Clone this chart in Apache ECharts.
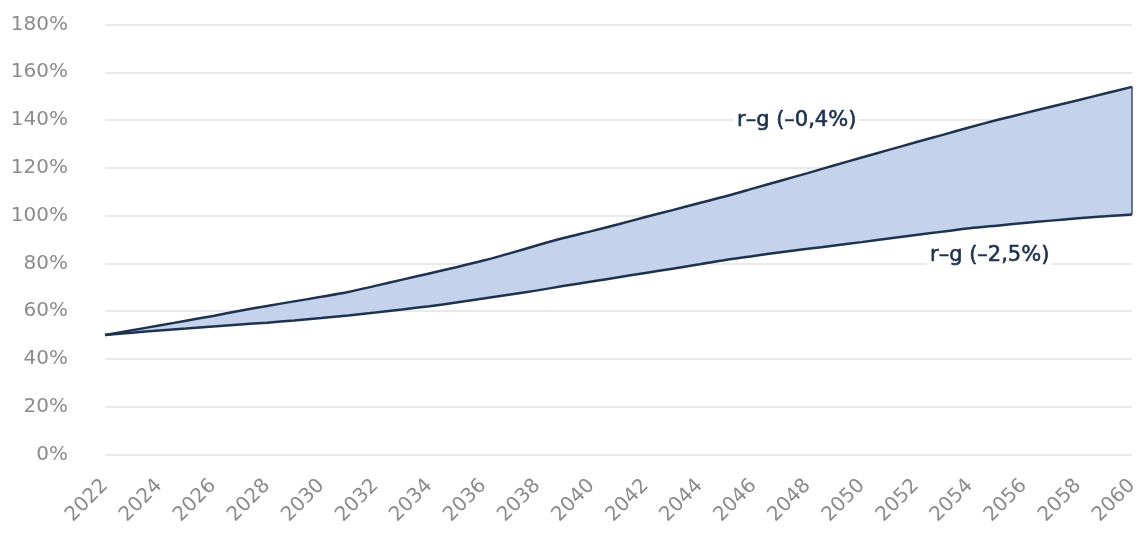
<!DOCTYPE html>
<html>
<head>
<meta charset="utf-8">
<script src="https://cdn.jsdelivr.net/npm/echarts@6/dist/echarts.min.js"></script>
<style>
  html, body { margin: 0; padding: 0; background: #ffffff; }
  #chart { width: 1142px; height: 534px; }
</style>
</head>
<body>
<div id="chart"></div>
<script>
// Debt ratio paths (% of GDP), 2022–2060
const years = [];
for (let y = 2022; y <= 2060; y++) years.push(String(y));

// r-g = -0.4%
const upperPath = [
  50.0, 52.0, 54.0, 56.0, 58.0, 60.2, 62.2, 64.1, 66.0, 68.0,
  70.6, 73.2, 75.8, 78.4, 81.2, 84.3, 87.6, 90.7, 93.5, 96.4,
  99.4, 102.3, 105.3, 108.2, 111.4, 114.6, 117.8, 121.1, 124.3, 127.5,
  130.7, 133.8, 137.0, 140.0, 142.8, 145.6, 148.3, 151.1, 153.9
];

// r-g = -2.5%
const lowerPath = [
  50.0, 51.0, 51.9, 52.7, 53.6, 54.4, 55.2, 56.1, 57.1, 58.2,
  59.4, 60.7, 62.1, 63.6, 65.3, 67.0, 68.7, 70.6, 72.4, 74.2,
  76.0, 77.8, 79.6, 81.5, 83.1, 84.7, 86.1, 87.5, 88.9, 90.4,
  91.9, 93.3, 94.7, 95.8, 96.9, 97.9, 98.9, 99.7, 100.5
];

const yTicks = { min: 0, max: 180, interval: 20 };
const upperLabel = 'r–g (–0,4%)';
const lowerLabel = 'r–g (–2,5%)';

// band between the two paths, stacked on the lower one
const bandWidth = upperPath.map((v, i) => +(v - lowerPath[i]).toFixed(2));

const lineColor = '#1e3250';
const bandColor = '#c4d3eb';
const axisTextColor = '#8c8c8c';
const fontFamily = '"DejaVu Sans", "Noto Sans", sans-serif';
const smoothing = 0.25;

const chart = echarts.init(document.getElementById('chart'), null, { renderer: 'canvas' });

// annotation text on a white box, slightly emboldened with a thin outline
function note(text, x, y) {
  return {
    type: 'text',
    x: x,
    y: y,
    z: 100,
    style: {
      text: text,
      fill: lineColor,
      stroke: lineColor,
      lineWidth: 0.6,
      font: '21px ' + fontFamily,
      textAlign: 'left',
      textVerticalAlign: 'middle',
      backgroundColor: '#ffffff',
      padding: [1, 3, 1, 3]
    }
  };
}

chart.setOption({
  animation: false,
  backgroundColor: '#ffffff',
  grid: { left: 105, right: 10, top: 24.5, bottom: 79.5, containLabel: false },
  xAxis: {
    type: 'category',
    data: years,
    boundaryGap: false,
    axisLine: { show: false },
    axisTick: { show: false },
    axisLabel: {
      interval: 1,
      rotate: 45,
      margin: 28,
      color: axisTextColor,
      fontSize: 20,
      fontFamily: fontFamily
    }
  },
  yAxis: {
    type: 'value',
    min: yTicks.min,
    max: yTicks.max,
    interval: yTicks.interval,
    axisLine: { show: false },
    axisTick: { show: false },
    splitLine: { lineStyle: { color: '#e2e2e2', width: 1.5 } },
    axisLabel: {
      formatter: '{value}%',
      margin: 37,
      color: axisTextColor,
      fontSize: 20,
      fontFamily: fontFamily
    }
  },
  series: [
    {
      name: 'base',
      type: 'line',
      stack: 'band',
      data: lowerPath,
      symbol: 'none',
      smooth: smoothing,
      lineStyle: { width: 0, opacity: 0 },
      silent: true
    },
    {
      name: 'band',
      type: 'line',
      stack: 'band',
      data: bandWidth,
      symbol: 'none',
      smooth: smoothing,
      lineStyle: { width: 0, opacity: 0 },
      areaStyle: { color: bandColor, opacity: 1 },
      silent: true
    },
    {
      name: upperLabel,
      type: 'line',
      data: upperPath,
      symbol: 'none',
      smooth: smoothing,
      lineStyle: { color: lineColor, width: 2.5 },
      z: 5,
      markLine: {
        symbol: 'none',
        silent: true,
        label: { show: false },
        lineStyle: { color: '#3a4e6e', width: 1.5, type: 'solid' },
        data: [[
          { coord: [years[years.length - 1], lowerPath[lowerPath.length - 1]] },
          { coord: [years[years.length - 1], upperPath[upperPath.length - 1]] }
        ]]
      }
    },
    {
      name: lowerLabel,
      type: 'line',
      data: lowerPath,
      symbol: 'none',
      smooth: smoothing,
      lineStyle: { color: lineColor, width: 2.5 },
      z: 5
    }
  ],
  graphic: [
    note(upperLabel, 734, 121),
    note(lowerLabel, 927, 256)
  ]
});
</script>
</body>
</html>
